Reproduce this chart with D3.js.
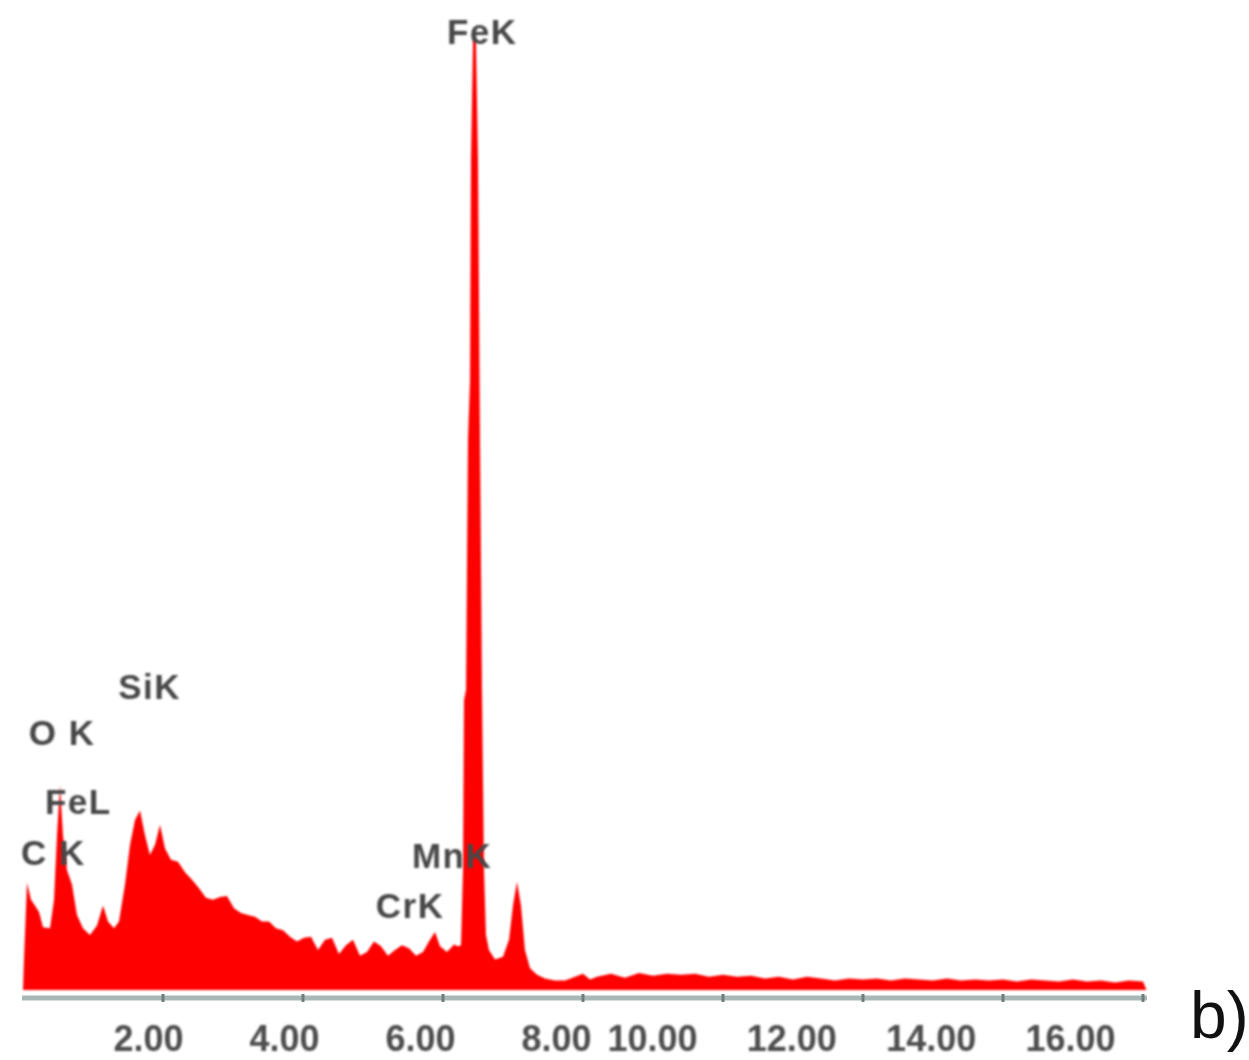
<!DOCTYPE html>
<html><head><meta charset="utf-8">
<script src="https://cdn.jsdelivr.net/npm/d3@7"></script>
<style>html,body{margin:0;padding:0;background:#fff;}svg{display:block;}</style>
</head><body>
<svg id="chart" width="1249" height="1060"></svg>
<script>
// Spectrum: energy (keV) and counts (arbitrary units, FeK peak = 1000)
const energy = [0,0.014,0.057,0.114,0.171,0.229,0.286,0.386,0.443,0.486,0.529,0.571,0.629,0.7,0.771,0.857,0.957,1.057,1.143,1.214,1.3,1.371,1.457,1.529,1.6,1.671,1.743,1.814,1.886,1.957,2.029,2.114,2.214,2.314,2.414,2.514,2.614,2.714,2.814,2.914,3.014,3.114,3.214,3.314,3.414,3.514,3.614,3.714,3.814,3.914,4.014,4.114,4.214,4.314,4.414,4.514,4.614,4.714,4.814,4.914,5.014,5.114,5.214,5.314,5.414,5.514,5.614,5.714,5.814,5.886,5.957,6.057,6.157,6.214,6.257,6.286,6.3,6.329,6.357,6.386,6.4,6.429,6.471,6.5,6.529,6.557,6.586,6.614,6.657,6.743,6.857,6.943,7.0,7.057,7.114,7.171,7.243,7.343,7.457,7.6,7.743,7.886,8.0,8.1,
8.2,8.4,8.6,8.8,9.0,9.2,9.4,9.6,9.8,10.0,10.2,10.4,10.6,10.8,11.0,11.2,11.4,11.6,11.8,12.0,12.2,12.4,12.6,12.8,13.0,13.2,13.4,13.6,13.8,14.0,14.2,14.4,14.6,14.8,15.0,15.2,15.4,15.6,15.8,16.0,16.05];
const counts = [0,32,113,95,89,82,66,65,95,163,216,163,126,111,79,65,58,68,89,72,65,72,111,153,179,189,163,142,153,174,149,137,135,124,116,107,97,95,98,99,86,81,79,77,72,72,65,63,56,51,55,56,42,53,55,38,47,53,36,40,51,46,36,42,47,44,36,40,53,61,46,40,48,46,47,126,305,316,579,642,874,1000,1000,874,579,316,126,58,42,32,35,53,89,114,89,42,23,16,12,10,10,14,17,11,
14,17,13,18,15,17,16,17,14,16,14,15,12,14,11,14,12,10,12,11,12,10,12,11,10,12,10,11,10,11,9,11,10,9,11,9,10,8,10,9,0];

const tickValues = [2,4,6,8,10,12,14,16];
const tickLabels = ["2.00","4.00","6.00","8.00","10.00","12.00","14.00","16.00"];

const peakNames = ["FeK","SiK","O K","FeL","C K","MnK","CrK"];
const peakKeV   = [6.56, 1.81, 0.56, 0.79, -0.03, 6.13, 5.53];
const peakCount = [996, 306, 258, 185, 132, 128, 76];
const peakAnchor = ["middle","middle","middle","middle","start","middle","middle"];

const svg = d3.select("#chart");
const defs = svg.append("defs");
defs.append("filter").attr("id","blurA").attr("x","-5%").attr("y","-5%").attr("width","110%").attr("height","110%")
  .append("feGaussianBlur").attr("stdDeviation",0.9);
defs.append("filter").attr("id","blurT").attr("x","-10%").attr("y","-20%").attr("width","120%").attr("height","140%")
  .append("feGaussianBlur").attr("stdDeviation",1.1);

const x = d3.scaleLinear().domain([0,16]).range([23,1143]);
const y = d3.scaleLinear().domain([0,1000]).range([990,40]);
// label positions of the tick texts (they drift from the tick marks in the reference)
const xLab = d3.scaleLinear().domain([2,8,10,16]).range([148,556,652,1070]);

const data = energy.map((e,i)=>({e, c:counts[i]}));

// axis line + ticks
const axisG = svg.append("g").attr("transform","translate(0,998)");
axisG.append("line").attr("x1",22).attr("x2",1147).attr("y1",0).attr("y2",0)
  .attr("stroke","#aab7b7").attr("stroke-width",5);
axisG.selectAll(".tickmark").data(tickValues).join("rect")
  .attr("class","tickmark").attr("x",d=>x(d)-1.5).attr("y",-4).attr("width",3).attr("height",8)
  .attr("fill","#6f7d7d");

// area
const area = d3.area().x(d=>x(d.e)).y0(y(0)).y1(d=>y(d.c)).curve(d3.curveLinear);
svg.append("path").datum(data).attr("d",area).attr("fill","#ff0000").attr("filter","url(#blurA)");

// tick labels
const labAxis = d3.axisBottom(xLab).tickValues(tickValues).tickFormat((d,i)=>tickLabels[i]).tickSize(0).tickPadding(0);
const labG = svg.append("g").attr("transform","translate(0,1051)").call(labAxis);
labG.select(".domain").remove();
labG.selectAll("text").attr("dy",0).attr("font-family","Liberation Sans, Arial, sans-serif")
  .attr("font-weight","bold").attr("font-size",36).attr("fill","#4d4d4d").attr("filter","url(#blurT)");

// peak labels
svg.append("g").selectAll("text").data(peakNames).join("text")
  .attr("x",(d,i)=>x(peakKeV[i])).attr("y",(d,i)=>y(peakCount[i]))
  .attr("text-anchor",(d,i)=>peakAnchor[i])
  .attr("font-family","Liberation Sans, Arial, sans-serif").attr("font-weight","bold").attr("font-size",35)
  .attr("letter-spacing",1.5)
  .attr("fill","#474747").attr("filter","url(#blurT)").text(d=>d);

// panel label
svg.append("text").attr("x",1190).attr("y",1038).attr("font-family","Liberation Sans, Arial, sans-serif")
  .attr("font-size",66).attr("fill","#111").text("b)");
</script>
</body></html>
